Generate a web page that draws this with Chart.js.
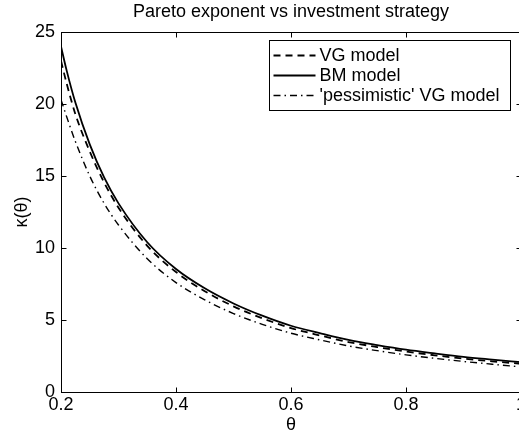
<!DOCTYPE html>
<html><head><meta charset="utf-8">
<script src="https://cdn.jsdelivr.net/npm/chart.js"></script>
<style>html,body{margin:0;padding:0;overflow:hidden;background:#fff;width:519px;height:434px}</style>
</head><body>
<canvas id="c" width="560" height="434" style="display:block"></canvas>
<script>
const theta = [0.2,0.21,0.225,0.25,0.275,0.3,0.35,0.4,0.45,0.5,0.55,0.6,0.65,0.7,0.75,0.8,0.85,0.9,0.95,1.0];
const bmModel = [24.0,22.3,20.1,17.2,14.9,13.1,10.4,8.54,7.2,6.15,5.3,4.6,4.09,3.62,3.26,2.94,2.68,2.44,2.25,2.07];
const vgModel = [23.0,21.4,19.3,16.7,14.55,12.8,10.15,8.33,7.0,5.95,5.12,4.44,3.93,3.47,3.12,2.81,2.55,2.32,2.13,1.96];
const pessimisticVg = [20.3,19.1,17.4,15.0,13.1,11.6,9.25,7.6,6.4,5.45,4.7,4.08,3.62,3.2,2.87,2.58,2.34,2.12,1.93,1.74];
const xTicks = [0.2,0.4,0.6,0.8,1];
const yTicks = [0,5,10,15,20,25];
const seriesLabels = ['VG model','BM model',"'pessimistic' VG model"];
const chartTitle = 'Pareto exponent vs investment strategy';

const FONT = '"Liberation Sans", Arial, Helvetica, sans-serif';
const pts = arr => theta.map((t,i)=>({x:t,y:arr[i]}));

const framePlugin = {
  id:'frame',
  afterDraw(chart){
    const {ctx, chartArea:a, scales:{x,y}} = chart;
    ctx.save();
    ctx.strokeStyle='#000'; ctx.lineWidth=1; ctx.setLineDash([]);
    const l=Math.round(a.left)+0.5, t=Math.round(a.top)+0.5, r=Math.round(a.right)+0.5, b=Math.round(a.bottom)+0.5;
    ctx.strokeRect(l,t,r-l,b-t);
    const L=5;
    ctx.beginPath();
    x.ticks.forEach(tk=>{const px=Math.round(x.getPixelForValue(tk.value))+0.5; ctx.moveTo(px,b); ctx.lineTo(px,b-L); ctx.moveTo(px,t); ctx.lineTo(px,t+L);});
    y.ticks.forEach(tk=>{const py=Math.round(y.getPixelForValue(tk.value))+0.5; ctx.moveTo(l,py); ctx.lineTo(l+L,py); ctx.moveTo(r,py); ctx.lineTo(r-L,py);});
    ctx.stroke();
    // legend
    const bx = Math.round(a.right - 251.7)+0.5, by = Math.round(a.top + 8.4)+0.5, bw = 241, bh = 70;
    ctx.fillStyle='#fff';
    ctx.fillRect(bx,by,bw,bh);
    ctx.strokeRect(bx,by,bw,bh);
    ctx.font = '18px ' + FONT;
    ctx.textBaseline='middle'; ctx.textAlign='left';
    chart.data.datasets.forEach((ds,i)=>{
      const cy = Math.round(by + 14.5 + i*20)+0.5;
      ctx.beginPath();
      ctx.setLineDash(ds.borderDash||[]);
      ctx.lineWidth = ds.borderWidth;
      ctx.strokeStyle = ds.borderColor;
      ctx.moveTo(bx+4, cy); ctx.lineTo(bx+46, cy);
      ctx.stroke();
      ctx.setLineDash([]);
      ctx.fillStyle='#000';
      ctx.fillText(ds.label, bx+50, cy+1);
    });
    ctx.restore();
  }
};

new Chart(document.getElementById('c'), {
  type:'scatter',
  data:{datasets:[
    {label:seriesLabels[0], data:pts(vgModel), showLine:true, borderColor:'#000', borderWidth:1.8, borderDash:[7,5], pointRadius:0, cubicInterpolationMode:'monotone'},
    {label:seriesLabels[1], data:pts(bmModel), showLine:true, borderColor:'#000', borderWidth:1.8, borderDash:[], pointRadius:0, cubicInterpolationMode:'monotone'},
    {label:seriesLabels[2], data:pts(pessimisticVg), showLine:true, borderColor:'#000', borderWidth:1.4, borderDash:[7,4,1.5,4], pointRadius:0, cubicInterpolationMode:'monotone'}
  ]},
  options:{
    responsive:false, animation:false,
    layout:{padding:{left:0,right:39,top:0,bottom:0}},
    plugins:{
      legend:{display:false}, tooltip:{enabled:false},
      title:{display:true, text:chartTitle, fullSize:false, color:'#000', font:{family:FONT,size:18,weight:'normal',lineHeight:1}, padding:{top:3.5,bottom:10.5}}
    },
    scales:{
      x:{type:'linear', min:0.2, max:1,
        grid:{display:false, drawTicks:false}, border:{display:false},
        afterBuildTicks:s=>{s.ticks = xTicks.map(v=>({value:v}));},
        ticks:{color:'#000', font:{family:FONT,size:18}, padding:2, maxRotation:0, autoSkip:false, callback:v=>String(v)},
        title:{display:true, text:'θ', color:'#000', font:{family:FONT,size:18,lineHeight:1}, padding:{top:0,bottom:0}},
        afterFit:s=>{s.height=42; s.paddingLeft=0; s.paddingRight=0;}
      },
      y:{type:'linear', min:0, max:25,
        grid:{display:false, drawTicks:false}, border:{display:false},
        afterBuildTicks:s=>{s.ticks = yTicks.map(v=>({value:v}));},
        ticks:{color:'#000', font:{family:FONT,size:18}, padding:6, autoSkip:false, callback:v=>String(v)},
        title:{display:true, text:'κ(θ)', color:'#000', font:{family:FONT,size:18,lineHeight:1}, padding:{top:13,bottom:0}},
        afterFit:s=>{s.width=61;}
      }
    }
  },
  plugins:[framePlugin]
});
</script>
</body></html>
